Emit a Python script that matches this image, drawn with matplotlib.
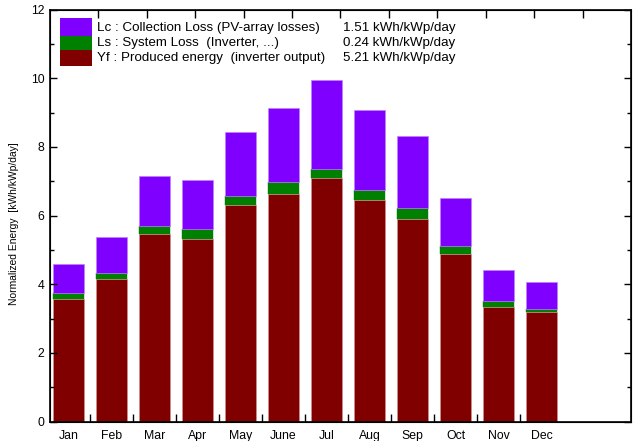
import numpy as np
import matplotlib
matplotlib.use('Agg')
import matplotlib.pyplot as plt
from matplotlib.patches import Rectangle

plt.rcParams['font.family'] = ['Liberation Sans', 'DejaVu Sans']

# données mensuelles (kWh/kWp/jour)
months = ['Jan', 'Feb', 'Mar', 'Apr', 'May', 'June', 'Jul', 'Aug', 'Sep', 'Oct', 'Nov', 'Dec']
yf = [3.58, 4.15, 5.45, 5.33, 6.32, 6.62, 7.09, 6.45, 5.91, 4.87, 3.35, 3.18]
ls = [0.16, 0.19, 0.24, 0.29, 0.25, 0.35, 0.28, 0.29, 0.31, 0.24, 0.17, 0.11]
lc = [0.84, 1.04, 1.45, 1.41, 1.86, 2.16, 2.59, 2.33, 2.09, 1.40, 0.89, 0.78]

legend_labels = ['Lc : Collection Loss (PV-array losses)',
                 'Ls : System Loss  (Inverter, ...)',
                 'Yf : Produced energy  (inverter output)']
legend_values = ['1.51 kWh/kWp/day', '0.24 kWh/kWp/day', '5.21 kWh/kWp/day']

c_lc = '#8000ff'
c_ls = '#008000'
c_yf = '#800000'

fig = plt.figure(figsize=(6.35, 4.41), dpi=100)
ax = fig.add_axes([0.0787, 0.0442, 0.915, 0.934])

x = np.arange(len(months))
w = 0.74
yf = np.array(yf); ls = np.array(ls); lc = np.array(lc)
ax.bar(x, yf, w, color=c_yf, edgecolor='#d09090', linewidth=0.5)
ax.bar(x, ls, w, bottom=yf, color=c_ls, edgecolor=c_ls, linewidth=0.3)
ax.bar(x, lc, w, bottom=yf + ls, color=c_lc, edgecolor='#c080ff', linewidth=0.5)

ax.set_xlim(-0.43, 13.08)
ax.set_ylim(0, 12)
ax.set_xticks(x)
ax.set_xticklabels(months, fontsize=8.8)
ax.set_xticks(x[:-1] + 0.5, minor=True)
ax.tick_params(axis='x', which='major', length=0, pad=6)
ax.tick_params(axis='x', which='minor', direction='in', length=6, width=1)

ax.set_yticks(np.arange(0, 13, 2))
ax.set_yticks(np.arange(1, 12, 2), minor=True)
ax.tick_params(axis='y', which='major', direction='in', length=5, width=1,
               labelsize=8.8, right=True, pad=4)
ax.tick_params(axis='y', which='minor', direction='in', length=3, width=1, right=True)
ax.set_ylabel('Normalized Energy  [kWh/kWp/day]', fontsize=7.4)
ax.yaxis.set_label_coords(-0.053, 0.48)

for s in ax.spines.values():
    s.set_linewidth(1.2)

# graduations du haut
top = ax.twiny()
top.set_xlim(0, 12)
top.set_xticks(np.arange(1, 12))
top.tick_params(axis='x', direction='in', length=6, width=1, labeltop=False)

# légende
box_y = [(0.936, 0.979), (0.902, 0.936), (0.863, 0.902)]
text_y = [0.955, 0.918, 0.882]
colors = [c_lc, c_ls, c_yf]
for i in range(3):
    y0, y1 = box_y[i]
    ax.add_patch(Rectangle((0.0172, y0), 0.055, y1 - y0, transform=ax.transAxes,
                           facecolor=colors[i], edgecolor='none', zorder=5))
    ax.text(0.081, text_y[i], legend_labels[i], transform=ax.transAxes,
            fontsize=9.6, va='center', ha='left')
    ax.text(0.504, text_y[i], legend_values[i], transform=ax.transAxes,
            fontsize=9.6, va='center', ha='left')

fig.savefig('out.png', dpi=100)
